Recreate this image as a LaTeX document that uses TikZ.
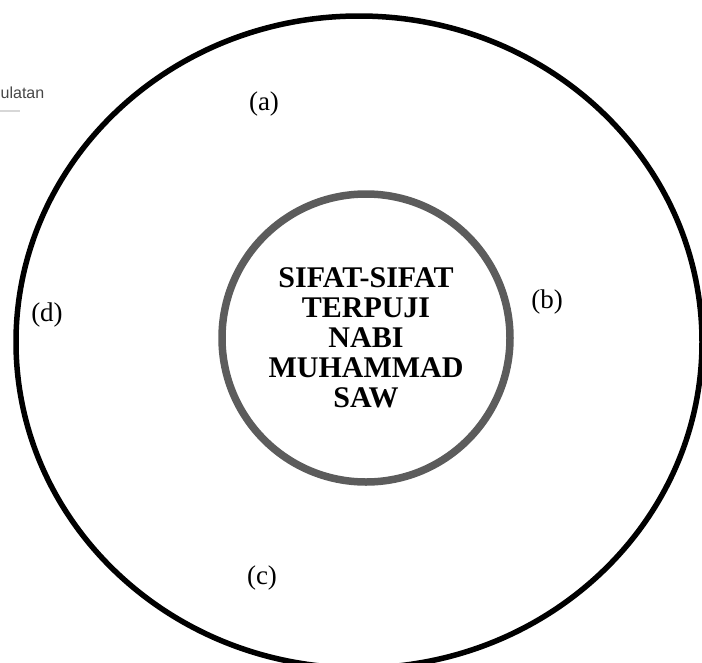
\documentclass[tikz,border=0pt]{standalone}
\usepackage{fontspec}
\setmainfont{Liberation Serif}
\newfontfamily\uisans{Liberation Sans}
\usetikzlibrary{shapes.geometric}
\definecolor{ringgray}{RGB}{92,92,92}
\definecolor{uigray}{RGB}{70,70,70}
\definecolor{barstripe}{RGB}{215,215,215}
\tikzset{
  outerring/.style={draw=black, line width=5.5pt, ellipse, inner sep=0pt,
    minimum width=686pt, minimum height=652pt},
  corering/.style={draw=ringgray, line width=7.5pt, circle, inner sep=0pt,
    minimum size=288pt, align=center,
    font=\fontsize{30}{30}\selectfont\bfseries},
  partlabel/.style={font=\fontsize{27}{30}\selectfont, inner sep=0pt},
}
\begin{document}
\begin{tikzpicture}[x=1pt, y=-1pt]
\useasboundingbox (0,0) rectangle (702,662);
\clip (0,0) rectangle (702,662);
\node[outerring] (outer) at (359,342) {};
\node[corering] (core) at (366,338) {SIFAT-SIFAT\\TERPUJI\\NABI\\MUHAMMAD\\SAW};
\node[partlabel] (a) at (264,104) {(a)};
\node[partlabel] (b) at (547,302) {(b)};
\node[partlabel] (c) at (262,578) {(c)};
\node[partlabel] (d) at (47,315) {(d)};
\node[anchor=west, inner sep=0pt, text=uigray, font=\uisans\fontsize{16}{19}\selectfont] (frag) at (0.5,93) {ulatan};
\draw[barstripe, line width=2.5pt] (0,111) coordinate (barl) -- (20,111) coordinate (barr);
\end{tikzpicture}
\end{document}
